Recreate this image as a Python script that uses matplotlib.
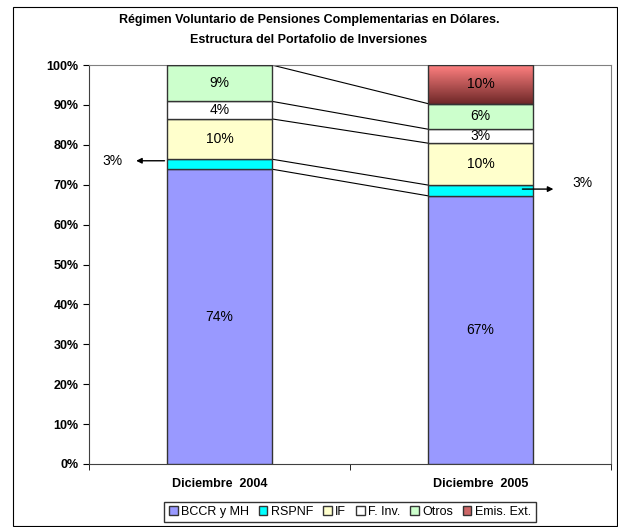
import numpy as np
import matplotlib
matplotlib.use("Agg")
from matplotlib import pyplot as plt
from matplotlib.colors import LinearSegmentedColormap
from matplotlib.patches import Rectangle, Patch

plt.rcParams['font.family'] = ['Liberation Sans', 'DejaVu Sans']

categorias = ['Diciembre  2004', 'Diciembre  2005']
series = ['BCCR y MH', 'RSPNF', 'IF', 'F. Inv.', 'Otros', 'Emis. Ext.']
bccr = [73.9, 67.2]
rspnf = [2.5, 2.7]
if_ = [10.1, 10.5]
finv = [4.4, 3.5]
otros = [9.1, 6.4]
emis = [0.0, 9.7]
etiquetas = [['74%', '', '10%', '4%', '9%', ''],
             ['67%', '', '10%', '3%', '6%', '10%']]
colores = ['#9999FF', '#00FFFF', '#FFFFCC', '#FFFFFF', '#CCFFCC', '#CC6666']

valores = [bccr, rspnf, if_, finv, otros, emis]

fig = plt.figure(figsize=(6.18, 5.27), dpi=100)
fig.patches.append(Rectangle((13 / 618, 0.002), 604 / 618, 519 / 527,
                             transform=fig.transFigure, fill=False,
                             edgecolor='black', linewidth=0.8))
ax = fig.add_axes([89 / 618, 63 / 527, 522 / 618, 399 / 527])

x = np.arange(len(categorias))
ancho = 0.4
base = np.zeros(len(categorias))
tops = []
handles = []
for i, (nombre, vals) in enumerate(zip(series, valores)):
    vals = np.array(vals)
    if nombre == 'Emis. Ext.':
        cmap = LinearSegmentedColormap.from_list('g', ['#6E2828', '#FF8080'])
        for j in range(len(x)):
            if vals[j] > 0:
                grad = np.linspace(0, 1, 100).reshape(-1, 1)
                ax.imshow(grad, cmap=cmap, origin='lower', aspect='auto',
                          extent=[x[j] - ancho / 2, x[j] + ancho / 2,
                                  base[j], base[j] + vals[j]], zorder=2)
        ax.bar(x, vals, ancho, bottom=base, color='none', edgecolor='#333333',
               linewidth=1, zorder=3)
    else:
        ax.bar(x, vals, ancho, bottom=base, color=colores[i], edgecolor='#333333',
               linewidth=1, zorder=3)
    handles.append(Patch(facecolor=colores[i], edgecolor='#333333', label=nombre))
    for j in range(len(x)):
        txt = etiquetas[j][i]
        if txt:
            ax.text(x[j], base[j] + vals[j] / 2, txt, ha='center', va='center',
                    fontsize=10, zorder=5)
    base = base + vals
    tops.append(base.copy())

# lineas de serie
for t in tops[:5]:
    ax.plot([x[0] + ancho / 2, x[1] - ancho / 2], [t[0], t[1]], color='black',
            linewidth=0.8, zorder=2)

# anotaciones RSPNF
ax.annotate('', xy=(-0.33, 76.0), xytext=(x[0] - ancho / 2, 76.0),
            arrowprops=dict(arrowstyle='-|>', color='black', lw=1, mutation_scale=8))
ax.text(-0.41, 76.0, '3%', ha='center', va='center', fontsize=10)
ax.annotate('', xy=(1.29, 68.9), xytext=(1.15, 68.9),
            arrowprops=dict(arrowstyle='-|>', color='black', lw=1, mutation_scale=8))
ax.text(1.39, 70.4, '3%', ha='center', va='center', fontsize=10)

ax.set_xlim(-0.5, 1.5)
ax.set_ylim(0, 100)
ax.set_yticks(np.arange(0, 101, 10))
ax.set_yticklabels([f'{v}%' for v in range(0, 101, 10)], fontsize=9, fontweight='bold')
ax.set_xticks(x)
ax.set_xticklabels(categorias, fontsize=9, fontweight='bold')
ax.set_xticks([-0.5, 0.5, 1.5], minor=True)
ax.tick_params(axis='x', which='major', length=0, pad=10)
ax.tick_params(axis='x', which='minor', length=4, direction='out')
ax.tick_params(axis='y', length=4, direction='out')
for s in ['top', 'right']:
    ax.spines[s].set_color('#808080')
for s in ['left', 'bottom']:
    ax.spines[s].set_color('#404040')

fig.text(0.5, 1 - 20 / 527, 'Régimen Voluntario de Pensiones Complementarias en Dólares.',
         ha='center', va='center', fontsize=9, fontweight='bold')
fig.text(0.5, 1 - 40 / 527, 'Estructura del Portafolio de Inversiones',
         ha='center', va='center', fontsize=9, fontweight='bold')

fig.legend(handles=handles, loc='center', bbox_to_anchor=(350 / 618, 1 - 512 / 527),
           ncol=6, fontsize=9, frameon=True, fancybox=False, edgecolor='black',
           handlelength=0.7, handleheight=0.7, handletextpad=0.3,
           columnspacing=0.75, borderpad=0.35)

fig.savefig('out.png', dpi=100)
